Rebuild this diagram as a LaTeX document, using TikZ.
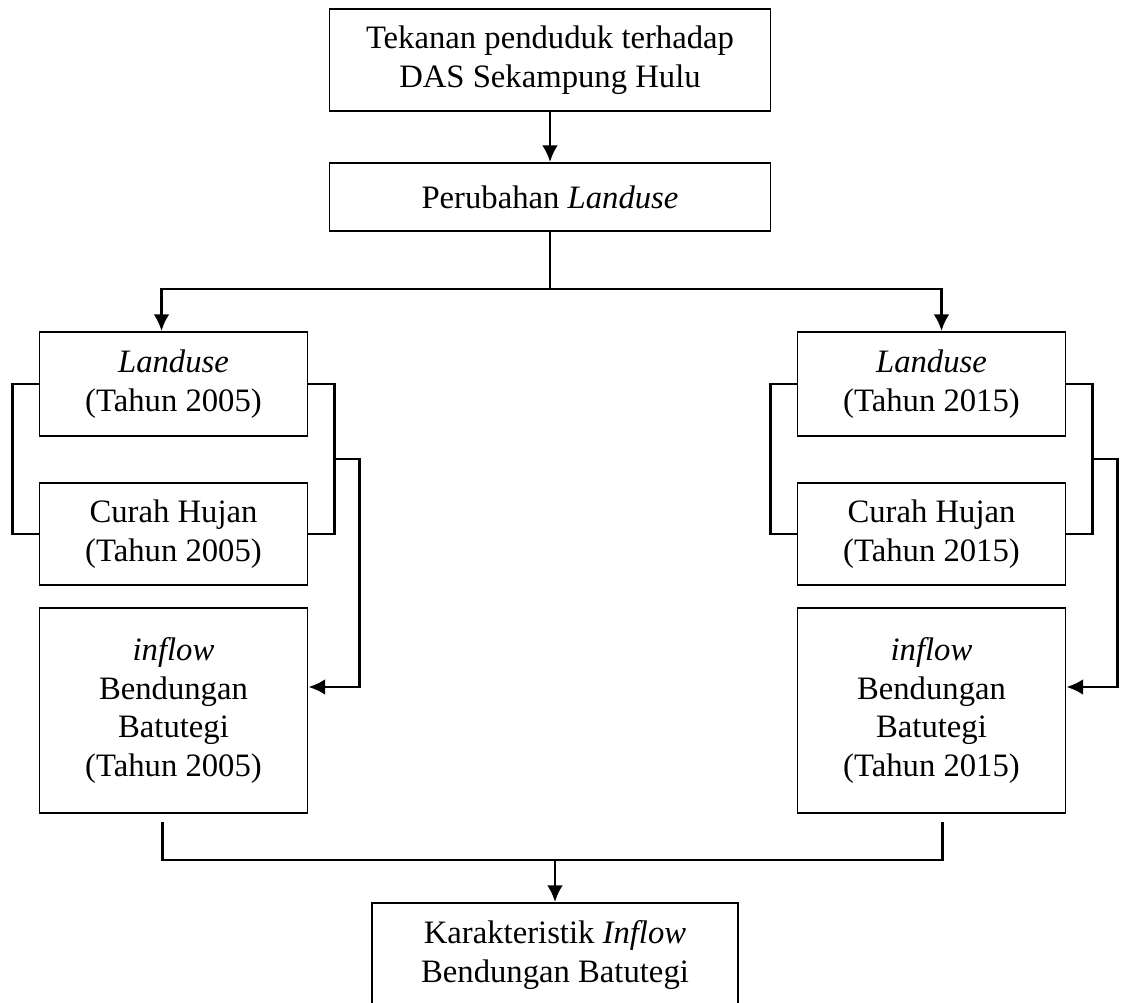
\documentclass[tikz,border=0pt]{standalone}
\usepackage{fontspec}
\setmainfont{Liberation Serif}
\usetikzlibrary{calc,arrows.meta}
\begin{document}
\begin{tikzpicture}[
        box/.style={draw, line width=1.1pt, align=center, inner sep=0pt,
            font=\fontsize{18.6}{22}\selectfont},
        line/.style={line width=1.5pt},
        arrow/.style={line, -{Latex[length=9.5pt,width=9pt]}}
    ]
        \path[use as bounding box, clip] (0,0) rectangle (22.42,20.06);

        \node[box, minimum width=8.82cm, minimum height=2.04cm] (tekanan) at (11.0,18.86)
            {Tekanan penduduk terhadap\\DAS Sekampung Hulu};
        \node[box, minimum width=8.82cm, minimum height=1.36cm] (perubahan) at (11.0,16.12)
            {Perubahan \textit{Landuse}};
        \draw[arrow] (tekanan) -- (perubahan);

        \foreach \yr/\cx in {2005/3.47, 2015/18.63}
            {
                \node[box, minimum width=5.36cm, minimum height=2.08cm] (lu\yr) at (\cx,12.38)
                    {\textit{Landuse}\\(Tahun \yr)};
                \node[box, minimum width=5.36cm, minimum height=2.04cm] (ch\yr) at (\cx,9.38)
                    {Curah Hujan\\(Tahun \yr)};
                \node[box, minimum width=5.36cm, minimum height=4.10cm] (in\yr) at (\cx,5.85)
                    {\textit{inflow}\\Bendungan\\Batutegi\\(Tahun \yr)};
                \draw[line] (lu\yr.west) -- ++(-0.52,0) |- (ch\yr.west);
                \draw[line] (lu\yr.east) -- ++(0.52,0) coordinate (br\yr) |- (ch\yr.east);
                \draw[arrow] ($(br\yr)+(0,-1.5)$) -- ++(0.5,0) |- ($(in\yr.east)+(0,0.47)$);
            }

        \coordinate (split) at (11.0,14.28);
        \draw[line] (perubahan.south) -- (split);
        \draw[arrow] (split) -| ($(lu2005.north)+(-0.24,0)$);
        \draw[arrow] (split) -| ($(lu2015.north)+(0.2,0)$);

        \node[box, minimum width=7.32cm, minimum height=2.08cm] (karakter) at (11.1,0.96)
            {Karakteristik \textit{Inflow}\\Bendungan Batutegi};
        \coordinate (merge) at (11.1,2.86);
        \draw[line] ($(in2005.south)+(-0.22,-0.17)$) |- (merge) -| ($(in2015.south)+(0.22,-0.17)$);
        \draw[arrow] (merge) -- (karakter.north);
    \end{tikzpicture}
\end{document}
